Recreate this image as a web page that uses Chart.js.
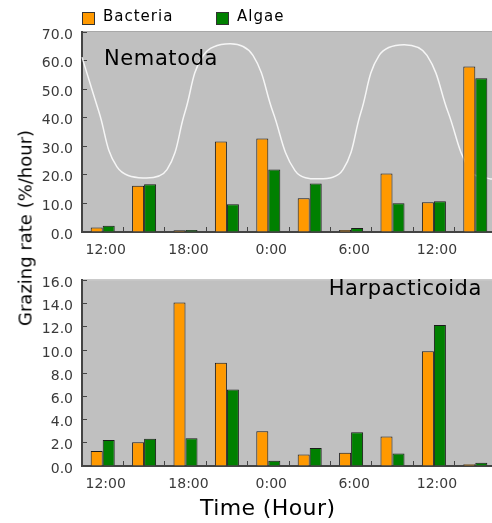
<!DOCTYPE html>
<html>
<head>
<meta charset="utf-8">
<script src="https://cdn.jsdelivr.net/npm/chart.js@4.4.1/dist/chart.umd.min.js"></script>
<style>
  body { margin: 0; width: 492px; height: 523px; overflow: hidden; background: #fff; position: relative; font-family: "DejaVu Sans", sans-serif; }
  canvas { position: absolute; left: 0; }
  #top { top: 0; }
  #bottom { top: 258px; }
  .txt { position: absolute; white-space: nowrap; color: #000; }
  .box { position: absolute; width: 11px; height: 11px; border: 1px solid #333; }
</style>
</head>
<body>
<canvas id="top" width="500" height="258"></canvas>
<canvas id="bottom" width="500" height="265"></canvas>

<div class="box" style="left:82px;top:12px;background:#ff9900"></div>
<div class="txt" style="left:103px;top:7px;font-size:15px;letter-spacing:1px">Bacteria</div>
<div class="box" style="left:216px;top:12px;background:#008000"></div>
<div class="txt" style="left:237px;top:7px;font-size:15px;letter-spacing:1px">Algae</div>

<div class="txt" style="left:104px;top:46px;font-size:21px;letter-spacing:0.6px">Nematoda</div>
<div class="txt" style="right:10px;top:276px;font-size:21px;letter-spacing:0.6px">Harpacticoida</div>

<div class="txt" style="left:200px;top:495px;font-size:22px;letter-spacing:0.4px">Time (Hour)</div>
<div class="txt" style="left:25px;top:228px;font-size:18px;transform:translate(-50%,-50%) rotate(-90deg)">Grazing rate (%/hour)</div>

<script>
// 3-hour sampling times
const times = ['12:00', '15:00', '18:00', '21:00', '0:00', '3:00', '6:00', '9:00', '12:00', '15:00'];

// Nematoda grazing rate (%/hour)
const nemaBacteria = [1.6, 16.2, 0.6, 31.7, 32.7, 11.8, 0.7, 20.5, 10.4, 57.9];
const nemaAlgae = [2.2, 16.7, 0.7, 9.7, 21.9, 17.0, 1.4, 10.1, 10.8, 53.8];

// Harpacticoida grazing rate (%/hour)
const harpBacteria = [1.3, 2.05, 14.1, 8.9, 3.0, 1.0, 1.15, 2.55, 9.9, 0.16];
const harpAlgae = [2.25, 2.35, 2.4, 6.6, 0.45, 1.55, 2.9, 1.07, 12.15, 0.27];

// tide curve behind the Nematoda bars (position in sample slots, level on the 0-70 scale)
const tideX = [-0.5, -0.09, 0.345, 0.973, 1.553, 1.988, 2.423, 3.075, 3.63, 4.114, 4.645,
               5.225, 5.804, 6.239, 6.674, 7.278, 7.833, 8.341, 8.872, 9.355, 9.5];
const tideY = [61.2, 42, 22.8, 18.9, 21.8, 42, 61.7, 65.9, 61.8, 41.9, 21.5,
               18.6, 21.8, 42, 61.7, 65.5, 61.8, 42, 21.5, 18.6, 18.8];

const plotBg = {
  id: 'plotBg',
  beforeDraw(chart) {
    const { ctx, chartArea: a } = chart;
    ctx.save();
    ctx.fillStyle = '#c0c0c0';
    ctx.fillRect(a.left, a.top, a.right - a.left, a.bottom - a.top);
    ctx.strokeStyle = '#a8a8a8';
    ctx.lineWidth = 1;
    ctx.beginPath();
    ctx.moveTo(a.left, a.top - 0.5);
    ctx.lineTo(a.right, a.top - 0.5);
    ctx.stroke();
    ctx.restore();
  }
};

Chart.defaults.font.family = '"DejaVu Sans", sans-serif';
Chart.defaults.color = '#3a3a3a';

function barSet(label, data, color) {
  return {
    type: 'bar',
    label: label,
    data: data,
    backgroundColor: color,
    borderColor: '#1a1a1a',
    borderWidth: 1,
    categoryPercentage: 0.58,
    barPercentage: 1.0,
    order: 1
  };
}

function makeOptions(maxY, stepY, padTop, xHeight) {
  return {
    responsive: false,
    animation: false,
    layout: { padding: { top: padTop, right: 4, left: 0, bottom: 0 } },
    plugins: { legend: { display: false }, tooltip: { enabled: false } },
    scales: {
      x: {
        type: 'category',
        offset: true,
        grid: { offset: true, drawOnChartArea: false, tickLength: -5, color: '#444', lineWidth: 1 },
        border: { color: '#444', width: 2 },
        ticks: {
          font: { size: 14 },
          padding: 15,
          labelOffset: 3,
          autoSkip: false,
          maxRotation: 0,
          callback: (v, i) => (i % 2 === 0 ? times[i] : '')
        },
        afterFit: (s) => { s.height = xHeight; }
      },
      y: {
        min: 0,
        max: maxY,
        grid: { drawOnChartArea: false, tickLength: -5, color: '#444' },
        border: { color: '#444', width: 2 },
        ticks: {
          stepSize: stepY,
          font: { size: 14 },
          padding: 14,
          labelOffset: 3,
          callback: (v) => v.toFixed(1)
        },
        afterFit: (s) => { s.width = 82; }
      }
    }
  };
}

new Chart(document.getElementById('top'), {
  type: 'bar',
  data: {
    labels: times,
    datasets: [
      barSet('Bacteria', nemaBacteria, '#ff9900'),
      barSet('Algae', nemaAlgae, '#008000'),
      {
        type: 'line',
        label: 'Tide',
        parsing: false,
        data: tideX.map((x, i) => ({ x: x, y: tideY[i] })),
        borderColor: 'rgba(255,255,255,0.85)',
        borderWidth: 1.5,
        pointRadius: 0,
        tension: 0.4,
        fill: false,
        order: 2
      }
    ]
  },
  options: makeOptions(70, 10, 32, 26),
  plugins: [plotBg]
});

new Chart(document.getElementById('bottom'), {
  type: 'bar',
  data: {
    labels: times,
    datasets: [
      barSet('Bacteria', harpBacteria, '#ff9900'),
      barSet('Algae', harpAlgae, '#008000')
    ]
  },
  options: makeOptions(16, 2, 11, 57),
  plugins: [plotBg]
});
</script>
</body>
</html>
